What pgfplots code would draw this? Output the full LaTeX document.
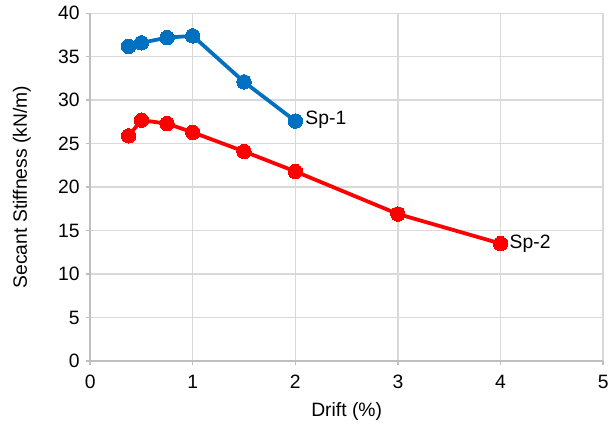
\documentclass[border=0pt]{standalone}
\usepackage{pgfplots}
\pgfplotsset{compat=1.18}
\usepackage{fontspec}
\setmainfont{Liberation Sans}

\definecolor{spblue}{HTML}{0070C0}
\definecolor{spred}{HTML}{FF0000}
\definecolor{gridgray}{HTML}{D9D9D9}
\definecolor{axisgray}{HTML}{BFBFBF}

% Secant stiffness versus drift for specimens Sp-1 and Sp-2
\pgfplotstableread{
drift  k
0.375  36.2
0.5    36.6
0.75   37.2
1.0    37.4
1.5    32.1
2.0    27.6
}\spone

\pgfplotstableread{
drift  k
0.375  25.9
0.5    27.7
0.75   27.3
1.0    26.3
1.5    24.1
2.0    21.8
3.0    16.9
4.0    13.5
}\sptwo

\begin{document}
\fontsize{19.5bp}{23bp}\selectfont
\begin{tikzpicture}
\begin{axis}[
  scale only axis,
  width=518bp, height=351bp,
  xmin=0, xmax=5, ymin=0, ymax=40,
  xtick={0,1,...,5}, ytick={0,5,...,40},
  grid=major,
  major grid style={gridgray, line width=1.5bp},
  axis x line*=bottom, axis y line*=left,
  axis line style={axisgray, line width=2bp, -},
  tick style={axisgray, line width=1.5bp},
  tick align=outside,
  major tick length=4bp,
  /pgf/number format/assume math mode=true,
  ticklabel style={font=\fontsize{19.5bp}{23bp}\selectfont},
  xticklabel style={yshift=-4bp},
  label style={font=\fontsize{19.5bp}{23bp}\selectfont},
  xlabel={Drift (\%)},
  ylabel={Secant Stiffness (kN/m)},
  every axis x label/.style={at={(axis description cs:0.5,0)}, anchor=center, yshift=-51bp},
  every axis y label/.style={at={([xshift=-69bp]axis description cs:0,0.5)}, anchor=center, rotate=90},
  clip=false,
]
\addplot[spblue, line width=3.8bp, mark=*, mark size=7.3bp,
  mark options={fill=spblue, draw=spblue, line width=0pt}]
  table[x=drift, y=k] {\spone};
\addplot[spred, line width=3.8bp, mark=*, mark size=7.3bp,
  mark options={fill=spred, draw=spred, line width=0pt}]
  table[x=drift, y=k] {\sptwo};
\node[anchor=west, inner sep=0pt, xshift=10bp, yshift=1bp] at (axis cs:2,27.6) {Sp-1};
\node[anchor=west, inner sep=0pt, xshift=9bp] at (axis cs:4,13.5) {Sp-2};
\end{axis}
\path[use as bounding box] (-91bp,-63bp) rectangle (524bp,363bp);
\end{tikzpicture}
\end{document}
